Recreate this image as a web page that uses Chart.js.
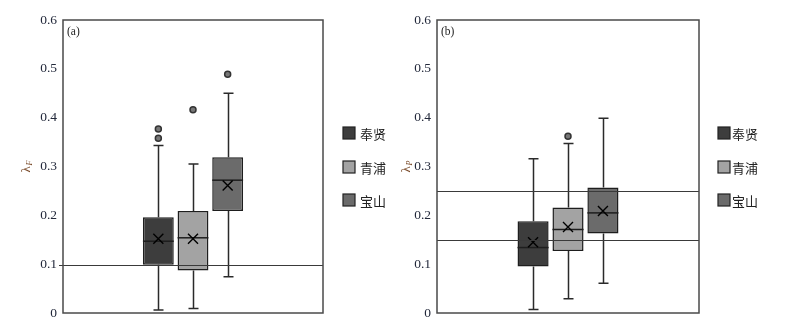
<!DOCTYPE html>
<html>
<head>
<meta charset="utf-8">
<script src="https://cdn.jsdelivr.net/npm/chart.js@4.4.1/dist/chart.umd.min.js"></script>
<style>
  body { margin: 0; background: #fff; }
  #wrap { position: relative; width: 801px; height: 323px; }
  #wrapA { position: absolute; left: 0; top: 0; width: 400px; height: 323px; }
  #wrapB { position: absolute; left: 400px; top: 0; width: 401px; height: 323px; }
</style>
</head>
<body>
<div id="wrap">
  <div id="wrapA"><canvas id="chartA"></canvas></div>
  <div id="wrapB"><canvas id="chartB"></canvas></div>
</div>
<script>
// sites (one box per site)
const sites = ['奉贤', '青浦', '宝山'];
const siteColors = ['#3d3d3d', '#a3a3a3', '#6b6b6b'];

// (a) lambda_F
const fQ1 = [0.099, 0.087, 0.209];
const fQ3 = [0.196, 0.209, 0.319];
const fMedian = [0.147, 0.154, 0.272];
const fMean = [0.152, 0.152, 0.261];
const fLow = [0.006, 0.009, 0.074];
const fHigh = [0.343, 0.305, 0.450];
const fOutliers = [[0.358, 0.377], [0.416], [0.489]];
const fRefLines = [0.098];

// (b) lambda_P
const pQ1 = [0.095, 0.127, 0.163];
const pQ3 = [0.188, 0.216, 0.257];
const pMedian = [0.134, 0.171, 0.205];
const pMean = [0.145, 0.176, 0.209];
const pLow = [0.007, 0.029, 0.061];
const pHigh = [0.316, 0.347, 0.399];
const pOutliers = [[], [0.362], []];
const pRefLines = [0.25, 0.15];

const serif = "'Liberation Serif', 'DejaVu Serif', serif";
const cjk = "'Noto Sans CJK SC', sans-serif";

const boxParts = {
  id: 'boxParts',
  beforeDatasetsDraw(chart, args, o) {
    const { ctx, scales: { y } } = chart;
    ctx.save();
    ctx.strokeStyle = '#2a2a2a';
    ctx.lineWidth = 1.5;
    chart.data.datasets.forEach((ds, i) => {
      const bar = chart.getDatasetMeta(i).data[0];
      const x = Math.round(bar.x) + 0.5;
      const lo = y.getPixelForValue(o.low[i]);
      const hi = y.getPixelForValue(o.high[i]);
      const q1 = y.getPixelForValue(o.q1[i]);
      const q3 = y.getPixelForValue(o.q3[i]);
      ctx.beginPath();
      ctx.moveTo(x, lo); ctx.lineTo(x, q1);
      ctx.moveTo(x, q3); ctx.lineTo(x, hi);
      ctx.moveTo(x - 5, lo); ctx.lineTo(x + 5, lo);
      ctx.moveTo(x - 5, hi); ctx.lineTo(x + 5, hi);
      ctx.stroke();
    });
    ctx.restore();
  },
  afterDatasetsDraw(chart, args, o) {
    const { ctx, chartArea: a, scales: { y } } = chart;
    ctx.save();
    chart.data.datasets.forEach((ds, i) => {
      const bar = chart.getDatasetMeta(i).data[0];
      const x = bar.x, hw = bar.width / 2;
      // median
      const m = y.getPixelForValue(o.median[i]);
      ctx.strokeStyle = '#1e1e1e';
      ctx.lineWidth = 1.5;
      ctx.beginPath();
      ctx.moveTo(x - hw, m); ctx.lineTo(x + hw, m);
      ctx.stroke();
      // mean cross
      const mn = y.getPixelForValue(o.mean[i]);
      ctx.strokeStyle = '#000';
      ctx.lineWidth = 1.4;
      ctx.beginPath();
      ctx.moveTo(x - 5, mn - 5); ctx.lineTo(x + 5, mn + 5);
      ctx.moveTo(x + 5, mn - 5); ctx.lineTo(x - 5, mn + 5);
      ctx.stroke();
      // outliers
      o.outliers[i].forEach(v => {
        const py = y.getPixelForValue(v);
        ctx.beginPath();
        ctx.arc(x, py, 3, 0, Math.PI * 2);
        ctx.fillStyle = '#777';
        ctx.fill();
        ctx.strokeStyle = '#333';
        ctx.lineWidth = 1.5;
        ctx.stroke();
      });
    });
    // reference lines
    ctx.strokeStyle = '#3a3a3a';
    ctx.lineWidth = 1.2;
    o.refLines.forEach(v => {
      const py = Math.round(y.getPixelForValue(v)) + 0.5;
      ctx.beginPath();
      ctx.moveTo(a.left - o.refExtend, py); ctx.lineTo(a.right, py);
      ctx.stroke();
    });
    // frame
    ctx.strokeStyle = '#4a4a4a';
    ctx.lineWidth = 1.5;
    ctx.strokeRect(a.left, a.top, a.right - a.left, a.bottom - a.top);
    // panel label
    ctx.fillStyle = '#222';
    ctx.font = '11.5px ' + serif;
    ctx.textBaseline = 'middle';
    ctx.textAlign = 'left';
    ctx.fillText(o.panel, a.left + 4, a.top + 12);
    // y title: lambda with subscript
    ctx.save();
    ctx.translate(o.titleX, (a.top + a.bottom) / 2);
    ctx.rotate(-Math.PI / 2);
    ctx.fillStyle = '#7a4b2a';
    ctx.textAlign = 'left';
    ctx.font = '13px ' + serif;
    ctx.fillText('λ', -6, 0);
    ctx.font = 'italic 8px ' + serif;
    ctx.fillText(o.sub, 1, 3);
    ctx.restore();
    // legend
    ctx.font = '13px ' + cjk;
    ctx.textBaseline = 'middle';
    chart.data.datasets.forEach((ds, i) => {
      const cy = o.legendY[i];
      ctx.fillStyle = ds.backgroundColor;
      ctx.fillRect(o.legendX, cy - 6, 12, 12);
      ctx.strokeStyle = '#222';
      ctx.lineWidth = 1.2;
      ctx.strokeRect(o.legendX, cy - 6, 12, 12);
      ctx.fillStyle = '#222';
      ctx.fillText(ds.label, o.legendX + 12 + o.legendGap, cy + 1);
    });
    ctx.restore();
  }
};

function makeChart(id, q1, q3, opts, leftWidth, padRight) {
  return new Chart(document.getElementById(id), {
    type: 'bar',
    data: {
      labels: [''],
      datasets: sites.map((s, i) => ({
        label: s,
        data: [[q1[i], q3[i]]],
        backgroundColor: siteColors[i],
        borderColor: '#1e1e1e',
        borderWidth: 1.5,
        borderSkipped: false,
        categoryPercentage: 0.4,
        barPercentage: 0.89
      }))
    },
    options: {
      responsive: true,
      maintainAspectRatio: false,
      animation: false,
      layout: { padding: { left: 0, top: 20, right: padRight, bottom: 10 } },
      plugins: {
        legend: { display: false },
        tooltip: { enabled: false },
        boxParts: opts
      },
      scales: {
        x: { display: false },
        y: {
          min: 0,
          max: 0.6,
          afterFit: s => {
            s.width = leftWidth;
            s.paddingTop = 0;
            s.paddingBottom = 0;
          },
          grid: { display: false, drawTicks: false },
          border: { display: false },
          ticks: {
            stepSize: 0.1,
            padding: 6,
            color: '#22283a',
            font: { family: serif, size: 13.5 }
          }
        }
      }
    },
    plugins: [boxParts]
  });
}

makeChart('chartA', fQ1, fQ3, {
  q1: fQ1, q3: fQ3, median: fMedian, mean: fMean, low: fLow, high: fHigh,
  outliers: fOutliers, refLines: fRefLines, refExtend: 4, panel: '(a)', sub: 'F', titleX: 27,
  legendX: 343, legendGap: 5, legendY: [133, 167, 200]
}, 63, 77);

makeChart('chartB', pQ1, pQ3, {
  q1: pQ1, q3: pQ3, median: pMedian, mean: pMean, low: pLow, high: pHigh,
  outliers: pOutliers, refLines: pRefLines, refExtend: 0, panel: '(b)', sub: 'P', titleX: 7,
  legendX: 318, legendGap: 2, legendY: [133, 167, 200]
}, 37, 102);
</script>
</body>
</html>
